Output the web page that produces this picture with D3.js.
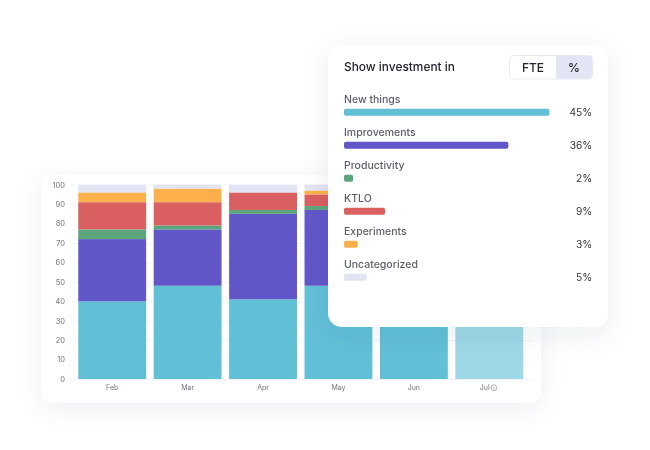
<!DOCTYPE html>
<html><head><meta charset="utf-8">
<script src="https://cdnjs.cloudflare.com/ajax/libs/d3/7.8.5/d3.min.js"></script>
<style>
html,body{margin:0;padding:0;background:#fff}
svg{display:block;filter:blur(0.3px)}
text{font-family:Inter,"Noto Sans",sans-serif}
</style></head><body>
<svg id="c" width="650" height="450"></svg>
<script>
const months = ["Feb","Mar","Apr","May","Jun","Jul"];
const seriesNames = ["New things","Improvements","Productivity","KTLO","Experiments","Uncategorized"];
const seriesKeys = ["newThings","improvements","productivity","ktlo","experiments","uncategorized"];
const newThings = [40,48,41,48,45,45];
const improvements = [32,29,44,39,36,36];
const productivity = [5,2,2,2,2,2];
const ktlo = [14,12,9,6,9,9];
const experiments = [5,7,0,2,3,3];
const uncategorized = [4,2,4,3,5,5];
const colors = ["#62c0d6","#6257c8","#5aa57c","#d95f60","#fbb04b","#e2e4f3"];
const investment = [45,36,2,9,3,5];
const yTicks = [0,10,20,30,40,50,60,70,80,90,100];
const toggleLabels = ["FTE","%"];
const provisionalMonth = "Jul";

const svg = d3.select("#c");
const defs = svg.append("defs");
function shadow(id,dy,blur,op){
  const f = defs.append("filter").attr("id",id).attr("x","-20%").attr("y","-25%").attr("width","140%").attr("height","150%");
  f.append("feDropShadow").attr("dx",0).attr("dy",dy).attr("stdDeviation",blur).attr("flood-color","#2a2d5a").attr("flood-opacity",op);
}
shadow("s1",5,11,0.07);
shadow("s2",7,13,0.08);

// chart card
svg.append("rect").attr("x",41).attr("y",175).attr("width",500).attr("height",228).attr("rx",12)
  .attr("fill","#fff").attr("filter","url(#s1)");

const x = d3.scaleBand().domain(months).range([74.5,527]).paddingInner(0.1).paddingOuter(0.05);
const y = d3.scaleLinear().domain([0,100]).range([379,184.7]);

const gy = svg.append("g").attr("transform","translate(70,0)")
  .call(d3.axisLeft(y).tickValues(yTicks).tickSize(0).tickPadding(5));
gy.select(".domain").remove();
gy.selectAll("text").attr("font-size",7.5).attr("fill","#73757f");
gy.selectAll(".tick").append("line").attr("x1",0).attr("x2",463).attr("stroke","#eef0f5").attr("stroke-width",0.8);

const table = months.map((m,i)=>({month:m,newThings:newThings[i],improvements:improvements[i],productivity:productivity[i],ktlo:ktlo[i],experiments:experiments[i],uncategorized:uncategorized[i]}));
const stacked = d3.stack().keys(seriesKeys)(table);
svg.append("g").selectAll("g").data(stacked).join("g")
  .each(function(s,si){
    d3.select(this).selectAll("rect").data(s).join("rect")
      .attr("x",d=>x(d.data.month)).attr("width",x.bandwidth())
      .attr("y",d=>y(d[1])).attr("height",d=>y(d[0])-y(d[1]))
      .attr("fill",colors[si]).attr("fill-opacity",d=>d.data.month===provisionalMonth?0.62:1);
  });

const gx = svg.append("g").attr("transform","translate(0,379)")
  .call(d3.axisBottom(x).tickSize(0).tickPadding(6));
gx.select(".domain").remove();
gx.selectAll("text").attr("font-size",7).attr("fill","#73757f")
  .attr("dx",d=>d===provisionalMonth?-4.5:0);
const julX = x(provisionalMonth)+x.bandwidth()/2;
gx.append("circle").attr("cx",julX+4.6).attr("cy",8.7).attr("r",2.9).attr("fill","none").attr("stroke","#73757f").attr("stroke-width",0.6);
gx.append("line").attr("x1",julX+4.6).attr("x2",julX+4.6).attr("y1",7.6).attr("y2",10).attr("stroke","#73757f").attr("stroke-width",0.6);

// investment panel
svg.append("rect").attr("x",328).attr("y",45).attr("width",280).attr("height",282).attr("rx",14)
  .attr("fill","#fff").attr("filter","url(#s2)");
svg.append("text").attr("x",344).attr("y",71.3).attr("font-size",11.9).attr("font-weight",500).attr("fill","#23242e").text("Show investment in");

// toggle
const clip = defs.append("clipPath").attr("id","tc");
clip.append("rect").attr("x",509.5).attr("y",55.5).attr("width",83).attr("height",23.5).attr("rx",4);
svg.append("rect").attr("x",556).attr("y",55.5).attr("width",36.5).attr("height",23.5).attr("fill","#e2e5f4").attr("clip-path","url(#tc)");
svg.append("rect").attr("x",509.5).attr("y",55.5).attr("width",83).attr("height",23.5).attr("rx",4).attr("fill","none").attr("stroke","#e8eaf2");
svg.append("g").selectAll("text").data(toggleLabels).join("text")
  .attr("x",(d,i)=>i===0?533:574).attr("y",71.6).attr("text-anchor","middle")
  .attr("font-size",12).attr("font-weight",500).attr("fill","#23242e").text(d=>d);

// rows
const w = d3.scaleLinear().domain([0,45]).range([0,205.4]);
const rowY = d3.scalePoint().domain(seriesNames).range([0,165]);
const rows = svg.append("g").selectAll("g").data(seriesNames).join("g")
  .attr("transform",d=>`translate(344,${rowY(d)})`);
rows.append("text").attr("x",0).attr("y",102.6).attr("font-size",10.5).attr("font-weight",500).attr("fill","#5d5f6e").text(d=>d);
rows.append("rect").attr("x",0).attr("y",108.7).attr("height",7).attr("rx",1.8)
  .attr("width",(d,i)=>w(investment[i])).attr("fill",(d,i)=>colors[i]);
rows.append("text").attr("x",248.3).attr("y",116).attr("text-anchor","end").attr("font-size",10.2).attr("fill","#34353f").text((d,i)=>investment[i]+"%");
</script>
</body></html>
